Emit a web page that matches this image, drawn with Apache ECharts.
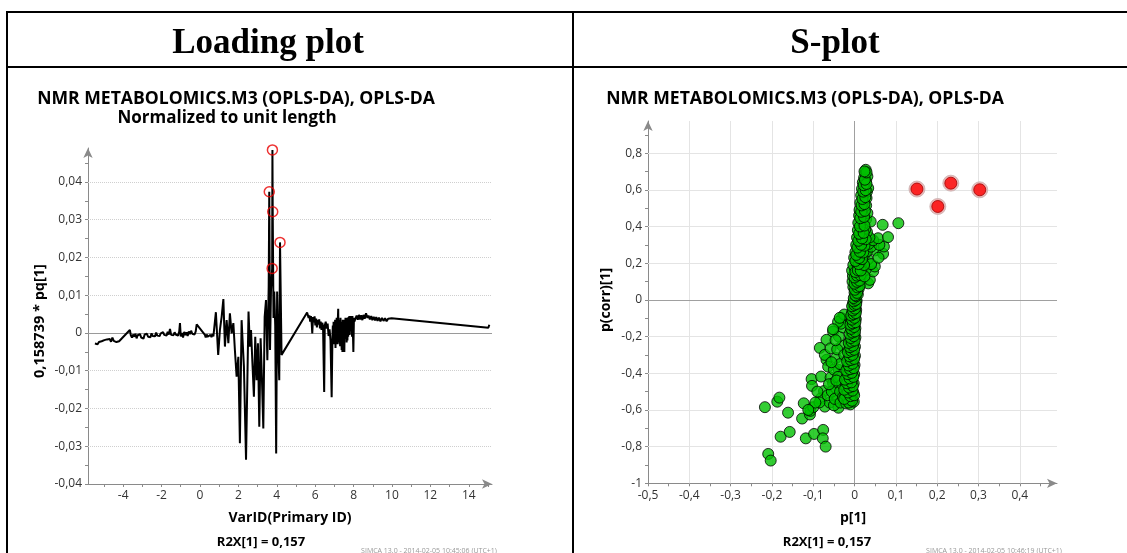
<!DOCTYPE html>
<html><head><meta charset="utf-8">
<script src="https://cdn.jsdelivr.net/npm/echarts@6/dist/echarts.min.js"></script>
<style>html,body{margin:0;padding:0;background:#fff}#c{width:1127px;height:553px}</style>
</head><body><div id="c"></div>
<script>
// ---------- Loading plot data ----------
const specX = [-5.47,-5.40,-5.33,-5.26,-5.19,-5.12,-5.05,-4.98,-4.91,-4.84,-4.77,-4.70,-4.63,-4.56,-4.49,-4.42,-4.35,-4.28,-4.21,-4.17,
-3.65,-3.60,-3.54,-3.48,-3.42,-3.36,-3.30,-3.24,-3.18,-3.12,-3.06,-3.00,-2.94,-2.88,-2.82,-2.76,-2.70,-2.64,-2.58,-2.52,-2.46,-2.40,-2.34,-2.28,-2.22,-2.16,-2.10,-2.04,-1.98,-1.92,-1.86,-1.80,-1.74,-1.68,-1.62,-1.56,-1.50,-1.44,-1.38,-1.32,-1.26,-1.20,-1.14,-1.08,-1.04,-1.00,-0.94,-0.88,-0.82,-0.76,-0.70,-0.64,-0.58,-0.52,-0.46,-0.40,-0.34,-0.28,-0.22,-0.17,
0.26,0.30,0.35,0.40,0.45,0.50,0.55,0.60,0.65,0.70,0.75,0.80,
0.83,0.95,1.04,1.13,1.22,1.30,1.39,1.48,1.56,1.65,1.74,1.82,1.91,2.00,2.08,2.17,2.22,2.29,2.40,2.47,2.53,2.60,2.66,2.73,2.81,2.88,2.95,3.02,3.09,3.16,3.23,3.30,3.37,3.44,3.51,3.58,
3.61,3.65,3.70,3.76,3.775,3.79,3.83,3.87,3.92,3.97,4.02,4.08,4.13,4.17,4.25,
5.58,5.61,5.66,5.70,5.74,5.78,5.82,5.85,5.89,5.93,5.97,6.01,6.05,6.09,6.13,6.17,6.21,6.25,6.29,6.33,6.37,6.41,6.47,6.50,6.55,6.60,6.65,6.70,6.75,6.80,6.86,
6.90,6.92,6.94,6.96,6.98,7.00,7.02,7.04,7.06,7.08,7.10,7.12,7.14,7.17,7.20,7.22,7.24,7.26,7.28,7.30,7.32,7.34,7.36,7.38,7.40,7.42,7.44,7.46,7.48,7.50,7.52,7.54,7.56,7.58,7.60,7.62,7.64,7.66,7.68,7.70,7.72,7.74,7.76,7.78,7.80,7.82,7.84,7.86,7.88,7.90,7.92,7.94,7.96,7.99,8.02,8.04,
8.10,8.16,8.22,8.28,8.34,8.40,8.46,8.52,8.58,8.65,8.72,8.78,8.85,8.92,8.98,9.05,9.12,9.18,9.25,9.32,9.40,9.48,9.56,9.64,9.72,9.80,9.88,9.98,
15.02,15.07];
const specY = [-0.0028,-0.0025,-0.0030,-0.0024,-0.0027,-0.0022,-0.0026,-0.0019,-0.0024,-0.0017,-0.0022,-0.0016,-0.0023,-0.0012,-0.0021,-0.0018,-0.0024,-0.0019,-0.0022,-0.0021,
0.0008,-0.0006,-0.0012,-0.0004,-0.0010,-0.0002,-0.0014,-0.0006,-0.0011,-0.0003,-0.0012,-0.0007,-0.0015,-0.0004,-0.0009,-0.0002,-0.0010,-0.0005,-0.0011,-0.0001,-0.0008,-0.0003,-0.0009,0.0001,-0.0007,-0.0002,-0.0008,-0.0001,-0.0006,0.0002,-0.0005,-0.0001,-0.0007,0.0003,-0.0004,0.0011,-0.0005,0.0000,-0.0006,0.0002,-0.0004,0.0001,-0.0007,0.0004,0.0026,-0.0009,0.0000,-0.0012,0.0003,-0.0006,0.0002,-0.0008,0.0004,-0.0003,0.0006,-0.0002,0.0003,-0.0004,0.0004,0.0023,
-0.0005,-0.0012,-0.0004,-0.0010,-0.0006,-0.0013,-0.0005,-0.0011,-0.0003,-0.0009,-0.0006,-0.0012,
0.0055,-0.0058,0.0008,0.0043,0.0090,-0.0036,0.0034,-0.0027,0.0052,-0.0001,0.0026,-0.0045,-0.0116,-0.0063,-0.0292,0.0034,-0.0019,-0.0089,-0.0336,-0.0332,0.0057,-0.0036,0.0008,-0.0076,-0.0169,-0.0010,-0.0125,-0.0027,-0.0248,-0.0014,-0.0125,-0.0253,0.0043,0.0087,-0.0072,0.0123,
0.0374,-0.0045,0.0114,0.0171,0.0485,0.0321,0.0040,0.0110,0.0020,-0.0319,0.0110,-0.0040,-0.0125,0.0240,-0.0058,
0.0054,0.0053,0.0040,0.0047,0.0030,0.0045,0.0025,-0.0001,0.0042,0.0028,0.0044,0.0020,0.0038,0.0015,0.0035,0.0022,0.0036,0.0012,0.0030,0.0008,0.0027,0.0018,-0.0156,0.0020,0.0030,0.0012,0.0025,-0.0008,0.0010,-0.0020,-0.0170,
-0.0010,0.0020,-0.0025,0.0030,-0.0030,0.0015,-0.0020,0.0035,-0.0040,0.0025,-0.0010,0.0040,-0.0030,0.0020,0.0064,-0.0025,0.0035,-0.0030,0.0030,-0.0035,0.0040,-0.0020,0.0025,-0.0045,0.0030,-0.0050,0.0035,-0.0020,0.0030,-0.0030,-0.0050,0.0035,-0.0010,0.0040,-0.0015,0.0030,-0.0025,0.0040,-0.0020,0.0038,-0.0010,0.0042,0.0000,0.0045,-0.0005,0.0040,0.0005,0.0045,0.0010,0.0040,-0.0010,0.0045,0.0015,-0.0050,0.0040,0.0030,
0.0038,0.0046,0.0035,0.0048,0.0036,0.0047,0.0034,0.0048,0.0038,0.0052,0.0040,0.0046,0.0036,0.0045,0.0034,0.0043,0.0033,0.0042,0.0032,0.0041,0.0031,0.0040,0.0032,0.0039,0.0031,0.0038,0.0033,0.0039,
0.0014,0.0022];
const markedX = [3.61, 3.76, 3.775, 3.79, 4.17];
const markedY = [0.0374, 0.0171, 0.0485, 0.0321, 0.0240];
const loadXLabels = [-4,-2,0,2,4,6,8,10,12,14];
const loadXTicks = [-5,-4,-3,-2,-1,0,1,2,3,4,5,6,7,8,9,10,11,12,13,14,15];
const loadYLabels = [-0.04,-0.03,-0.02,-0.01,0,0.01,0.02,0.03,0.04];
const loadYTicks = [-0.04,-0.035,-0.03,-0.025,-0.02,-0.015,-0.01,-0.005,0,0.005,0.01,0.015,0.02,0.025,0.03,0.035,0.04,0.045];
const loadYGrid = [-0.03,-0.02,-0.01,0.01,0.02,0.03,0.04];

// ---------- S-plot data ----------
const sGreen = [
[-0.217,-0.585],[-0.209,-0.840],[-0.203,-0.876],[-0.187,-0.555],[-0.182,-0.533],[-0.179,-0.746],[-0.161,-0.615],[-0.157,-0.720],[-0.127,-0.647],[-0.123,-0.564],[-0.118,-0.755],[-0.108,-0.625],[-0.107,-0.605],[-0.100,-0.585],[-0.104,-0.432],[-0.103,-0.469],[-0.098,-0.731],[-0.081,-0.418],[-0.076,-0.709],[-0.077,-0.755],[-0.070,-0.800],[-0.074,-0.497],[-0.082,-0.538],[-0.072,-0.582],[-0.058,-0.424],[-0.060,-0.560],[-0.052,-0.455],[-0.039,-0.588],[-0.043,-0.529],[-0.022,-0.518],[-0.020,-0.458],[-0.017,-0.392],[-0.085,-0.559],[-0.090,-0.500],[-0.065,-0.520],[-0.050,-0.575],[-0.095,-0.560],[-0.112,-0.600],
[-0.068,-0.327],[-0.064,-0.364],[-0.068,-0.218],[-0.084,-0.262],[-0.072,-0.300],[-0.058,-0.264],[-0.052,-0.173],[-0.045,-0.317],[-0.038,-0.382],[-0.050,-0.380],[-0.040,-0.420],[-0.035,-0.350],[-0.030,-0.250],[-0.038,-0.200],[-0.031,-0.100],[-0.028,-0.150],[-0.045,-0.480],[-0.055,-0.500],[-0.062,-0.460],[-0.048,-0.540],[-0.035,-0.500],[-0.030,-0.460],[-0.042,-0.270],[-0.025,-0.300],[-0.033,-0.130],[-0.040,-0.120],[-0.025,-0.080],[-0.046,-0.220],[-0.056,-0.340],[-0.034,-0.560],[-0.028,-0.530],[-0.044,-0.440],[-0.036,-0.098],[-0.052,-0.160],
[-0.020,-0.565],[-0.010,-0.570],[-0.002,-0.555],[-0.016,-0.545],[-0.006,-0.535],[-0.022,-0.520],[-0.012,-0.515],[-0.003,-0.505],[-0.018,-0.495],[-0.008,-0.485],[-0.021,-0.470],[-0.011,-0.465],[-0.002,-0.455],[-0.015,-0.445],[-0.006,-0.435],[-0.019,-0.420],[-0.009,-0.415],[-0.001,-0.405],[-0.014,-0.395],[-0.005,-0.385],[-0.017,-0.370],[-0.008,-0.365],[0.000,-0.355],[-0.012,-0.345],[-0.004,-0.335],[-0.015,-0.320],[-0.007,-0.315],[0.001,-0.305],[-0.010,-0.295],[-0.003,-0.285],[-0.013,-0.270],[-0.006,-0.265],[0.001,-0.255],[-0.009,-0.245],[-0.002,-0.235],[-0.011,-0.220],[-0.004,-0.215],[0.002,-0.205],[-0.007,-0.195],[0.000,-0.185],[-0.009,-0.170],[-0.003,-0.165],[0.002,-0.155],[-0.006,-0.145],[0.000,-0.135],[-0.008,-0.120],[-0.002,-0.115],[0.003,-0.105],[-0.005,-0.095],[0.001,-0.085],[-0.006,-0.070],[0.000,-0.065],[0.004,-0.055],[-0.003,-0.045],[0.002,-0.035],[-0.004,-0.020],[0.001,-0.015],[0.005,-0.005],
[-0.014,-0.560],[-0.006,-0.550],[-0.025,-0.540],[-0.010,-0.525],[-0.001,-0.520],[-0.016,-0.505],[-0.005,-0.495],[-0.025,-0.490],[-0.013,-0.478],[-0.004,-0.470],[-0.018,-0.455],[-0.008,-0.450],[-0.023,-0.435],[-0.012,-0.428],[-0.003,-0.420],[-0.016,-0.405],[-0.007,-0.398],[-0.020,-0.385],[-0.011,-0.378],[-0.002,-0.372],[-0.014,-0.358],[-0.005,-0.348],[-0.018,-0.335],[-0.009,-0.328],[-0.001,-0.322],[-0.012,-0.308],[-0.005,-0.300],[-0.016,-0.285],[-0.008,-0.278],[-0.001,-0.272],[-0.011,-0.258],[-0.004,-0.250],[-0.014,-0.235],[-0.007,-0.228],[0.000,-0.222],[-0.009,-0.208],[-0.002,-0.198],[-0.012,-0.185],[-0.005,-0.178],[0.001,-0.172],[-0.008,-0.158],[-0.001,-0.148],[-0.010,-0.135],[-0.004,-0.128],[0.002,-0.122],[-0.006,-0.108],[0.000,-0.098],[-0.008,-0.085],[-0.002,-0.078],[0.003,-0.072],[-0.004,-0.058],[0.001,-0.048],[-0.006,-0.035],[0.000,-0.028],[0.004,-0.022],[-0.002,-0.008],[0.003,0.000],
[-0.002,0.010],[0.004,0.020],[0.008,0.030],[0.000,0.040],[0.006,0.050],[0.010,0.060],[-0.003,0.070],[0.003,0.080],[0.009,0.090],[0.014,0.085],[-0.005,0.100],[0.002,0.110],[0.008,0.120],[0.016,0.115],[0.033,0.090],[-0.004,0.130],[0.004,0.140],[0.011,0.150],[0.020,0.145],[0.037,0.109],[0.045,0.155],[-0.006,0.160],[0.001,0.170],[0.009,0.180],[0.018,0.175],[0.027,0.165],[0.049,0.182],[-0.003,0.190],[0.005,0.200],[0.013,0.210],[0.022,0.205],[0.032,0.220],[0.040,0.195],[-0.001,0.230],[0.007,0.240],[0.016,0.235],[0.025,0.250],[0.050,0.270],[0.069,0.251],[0.058,0.230],[0.002,0.260],[0.010,0.270],[0.019,0.280],[0.030,0.265],[0.040,0.290],[0.071,0.291],[0.060,0.300],[0.004,0.300],[0.012,0.310],[0.022,0.320],[0.034,0.305],[0.045,0.325],[0.057,0.336],[0.081,0.342],[0.006,0.340],[0.014,0.350],[0.024,0.345],[0.036,0.340],[0.030,0.370],[0.008,0.380],[0.016,0.390],[0.026,0.385],[0.020,0.410],[0.009,0.420],[0.018,0.430],[0.028,0.440],[0.039,0.427],[0.068,0.409],[0.106,0.418],[0.011,0.460],[0.020,0.470],[0.031,0.473],[0.012,0.490],[0.021,0.500],[0.028,0.515],[0.014,0.530],[0.023,0.540],[0.029,0.555],[0.016,0.570],[0.024,0.580],[0.030,0.590],[0.018,0.605],[0.033,0.609],[0.025,0.620],[0.020,0.640],[0.028,0.650],[0.031,0.673],[0.023,0.665],[0.026,0.690],[0.027,0.709],
[0.002,0.025],[0.006,0.038],[0.001,0.055],[0.007,0.068],[0.012,0.075],[0.000,0.088],[0.006,0.098],[0.012,0.105],[0.000,0.122],[0.006,0.132],[0.014,0.135],[0.024,0.128],[0.002,0.152],[0.008,0.162],[0.015,0.160],[0.023,0.190],[0.010,0.195],[0.002,0.212],[0.018,0.222],[0.011,0.228],[0.004,0.245],[0.021,0.258],[0.013,0.262],[0.007,0.285],[0.024,0.295],[0.016,0.300],[0.009,0.322],[0.027,0.330],[0.018,0.335],[0.011,0.360],[0.022,0.365],[0.013,0.400],[0.024,0.405],[0.014,0.445],[0.023,0.452],[0.016,0.480],[0.025,0.485],[0.017,0.515],[0.024,0.522],[0.019,0.550],[0.026,0.560],[0.021,0.590],[0.027,0.598],[0.022,0.625],[0.029,0.632],[0.025,0.655],[0.029,0.695],[0.024,0.700]
];
const sRed = [[0.151,0.604],[0.2015,0.509],[0.233,0.636],[0.303,0.600]];
const sXLabels = [-0.5,-0.4,-0.3,-0.2,-0.1,0,0.1,0.2,0.3,0.4];
const sXTicks = [-0.5,-0.45,-0.4,-0.35,-0.3,-0.25,-0.2,-0.15,-0.1,-0.05,0,0.05,0.1,0.15,0.2,0.25,0.3,0.35,0.4,0.45];
const sYLabels = [-1,-0.8,-0.6,-0.4,-0.2,0,0.2,0.4,0.6,0.8];
const sYTicks = [-1,-0.9,-0.8,-0.7,-0.6,-0.5,-0.4,-0.3,-0.2,-0.1,0,0.1,0.2,0.3,0.4,0.5,0.6,0.7,0.8,0.9];
const sXGrid = [-0.4,-0.3,-0.2,-0.1,0.1,0.2,0.3,0.4];
const sYGrid = [-0.8,-0.6,-0.4,-0.2,0.2,0.4,0.6,0.8];

const FONT = '"Open Sans", "Noto Sans", sans-serif';
const fmt = v => String(+(+v).toFixed(4)).replace('.', ',');

const chart = echarts.init(document.getElementById('c'), null, {renderer: 'canvas'});

function axisBase(extra, ticks, labels) {
  return Object.assign({
    type: 'value',
    splitLine: {show: false},
    axisLine: {show: true, onZero: false, lineStyle: {color: '#8a8a8a', width: 1}, symbol: ['none', 'arrow'], symbolSize: [7, 10]},
    axisTick: {show: true, length: 3, lineStyle: {color: '#8a8a8a'}, customValues: ticks},
    axisLabel: {color: '#333', fontFamily: FONT, fontSize: 12, margin: 6, formatter: fmt, customValues: labels}
  }, extra);
}

const text = (t, x, y, font, color, rot) => ({
  type: 'text', x: x, y: y, rotation: rot || 0, silent: true,
  style: {text: t, font: font, fill: color || '#000', textAlign: 'center', textVerticalAlign: 'middle'}
});
const line = (x1, y1, x2, y2) => ({type: 'line', silent: true, shape: {x1, y1, x2, y2}, style: {stroke: '#000', lineWidth: 2}});
const gridLineML = (vals, key, color, type) => vals.map(v => ({[key]: v, lineStyle: {color: color, type: type, width: 1}}));

chart.setOption({
  animation: false,
  backgroundColor: '#fff',
  grid: [
    {left: 88, top: 148, width: 404, height: 336},
    {left: 648, top: 121, width: 409, height: 362.3}
  ],
  xAxis: [
    axisBase({gridIndex: 0, min: -5.83, max: 15.21}, loadXTicks, loadXLabels),
    axisBase({gridIndex: 1, min: -0.5, max: 0.49}, sXTicks, sXLabels)
  ],
  yAxis: [
    axisBase({gridIndex: 0, min: -0.04, max: 0.049}, loadYTicks, loadYLabels),
    axisBase({gridIndex: 1, min: -1, max: 0.975}, sYTicks, sYLabels)
  ],
  series: [
    {type: 'line', xAxisIndex: 0, yAxisIndex: 0, data: [], silent: true,
      markLine: {z: 1, silent: true, symbol: 'none', label: {show: false}, animation: false,
        data: gridLineML(loadYGrid, 'yAxis', '#cfcfcf', 'dotted').concat(gridLineML([0], 'yAxis', '#9a9a9a', 'solid'))}},
    {type: 'line', xAxisIndex: 0, yAxisIndex: 0, z: 3, silent: true, showSymbol: false, symbol: 'none',
      lineStyle: {color: '#000', width: 2}, data: specX.map((x, i) => [x, specY[i]])},
    {type: 'scatter', xAxisIndex: 0, yAxisIndex: 0, z: 4, silent: true, symbol: 'circle', symbolSize: 10,
      itemStyle: {color: 'rgba(0,0,0,0)', borderColor: '#e80000', borderWidth: 1.5},
      data: markedX.map((x, i) => [x, markedY[i]])},
    {type: 'scatter', xAxisIndex: 1, yAxisIndex: 1, data: [], silent: true,
      markLine: {z: 1, silent: true, symbol: 'none', label: {show: false}, animation: false,
        data: gridLineML(sXGrid, 'xAxis', '#e4e4e4', 'solid').concat(gridLineML(sYGrid, 'yAxis', '#e4e4e4', 'solid'))
          .concat(gridLineML([0], 'xAxis', '#a0a0a0', 'solid')).concat(gridLineML([0], 'yAxis', '#a0a0a0', 'solid'))}},
    {type: 'scatter', xAxisIndex: 1, yAxisIndex: 1, z: 3, silent: true, symbolSize: 11,
      itemStyle: {color: '#00c000', borderColor: '#000', borderWidth: 1}, data: sGreen},
    {type: 'scatter', xAxisIndex: 1, yAxisIndex: 1, z: 4, silent: true, symbolSize: 16,
      itemStyle: {color: '#e6a6a6', borderColor: '#c9b0b0', borderWidth: 1}, data: sRed},
    {type: 'scatter', xAxisIndex: 1, yAxisIndex: 1, z: 5, silent: true, symbolSize: 12,
      itemStyle: {color: '#ff0000', borderColor: '#a00000', borderWidth: 1}, data: sRed}
  ],
  graphic: [
    line(6, 12, 1127, 12), line(6, 67, 1127, 67), line(7, 11, 7, 553), line(573, 11, 573, 553),
    text('Loading plot', 268, 43.5, 'bold 35px "Liberation Serif", "Times New Roman", serif'),
    text('S-plot', 835, 43.5, 'bold 35px "Liberation Serif", "Times New Roman", serif'),
    text('NMR METABOLOMICS.M3 (OPLS-DA), OPLS-DA', 236, 99, 'bold 17.6px ' + FONT),
    text('Normalized to unit length', 227, 118, 'bold 17px ' + FONT),
    text('NMR METABOLOMICS.M3 (OPLS-DA), OPLS-DA', 805, 99, 'bold 17.6px ' + FONT),
    text('0,158739 * pq[1]', 40, 321, 'bold 14.5px ' + FONT, '#000', Math.PI / 2),
    text('p(corr)[1]', 606, 300, 'bold 14px ' + FONT, '#000', Math.PI / 2),
    text('VarID(Primary ID)', 290, 518, 'bold 14px ' + FONT),
    text('p[1]', 853, 518, 'bold 14px ' + FONT),
    text('R2X[1] = 0,157', 261, 542, 'bold 13px ' + FONT),
    text('R2X[1] = 0,157', 827, 542, 'bold 13px ' + FONT),
    text('SIMCA 13.0 - 2014-02-05 10:45:06 (UTC+1)', 429, 551, '7px ' + FONT, '#999'),
    text('SIMCA 13.0 - 2014-02-05 10:46:19 (UTC+1)', 994, 551, '7px ' + FONT, '#999')
  ]
});
</script>
</body></html>
